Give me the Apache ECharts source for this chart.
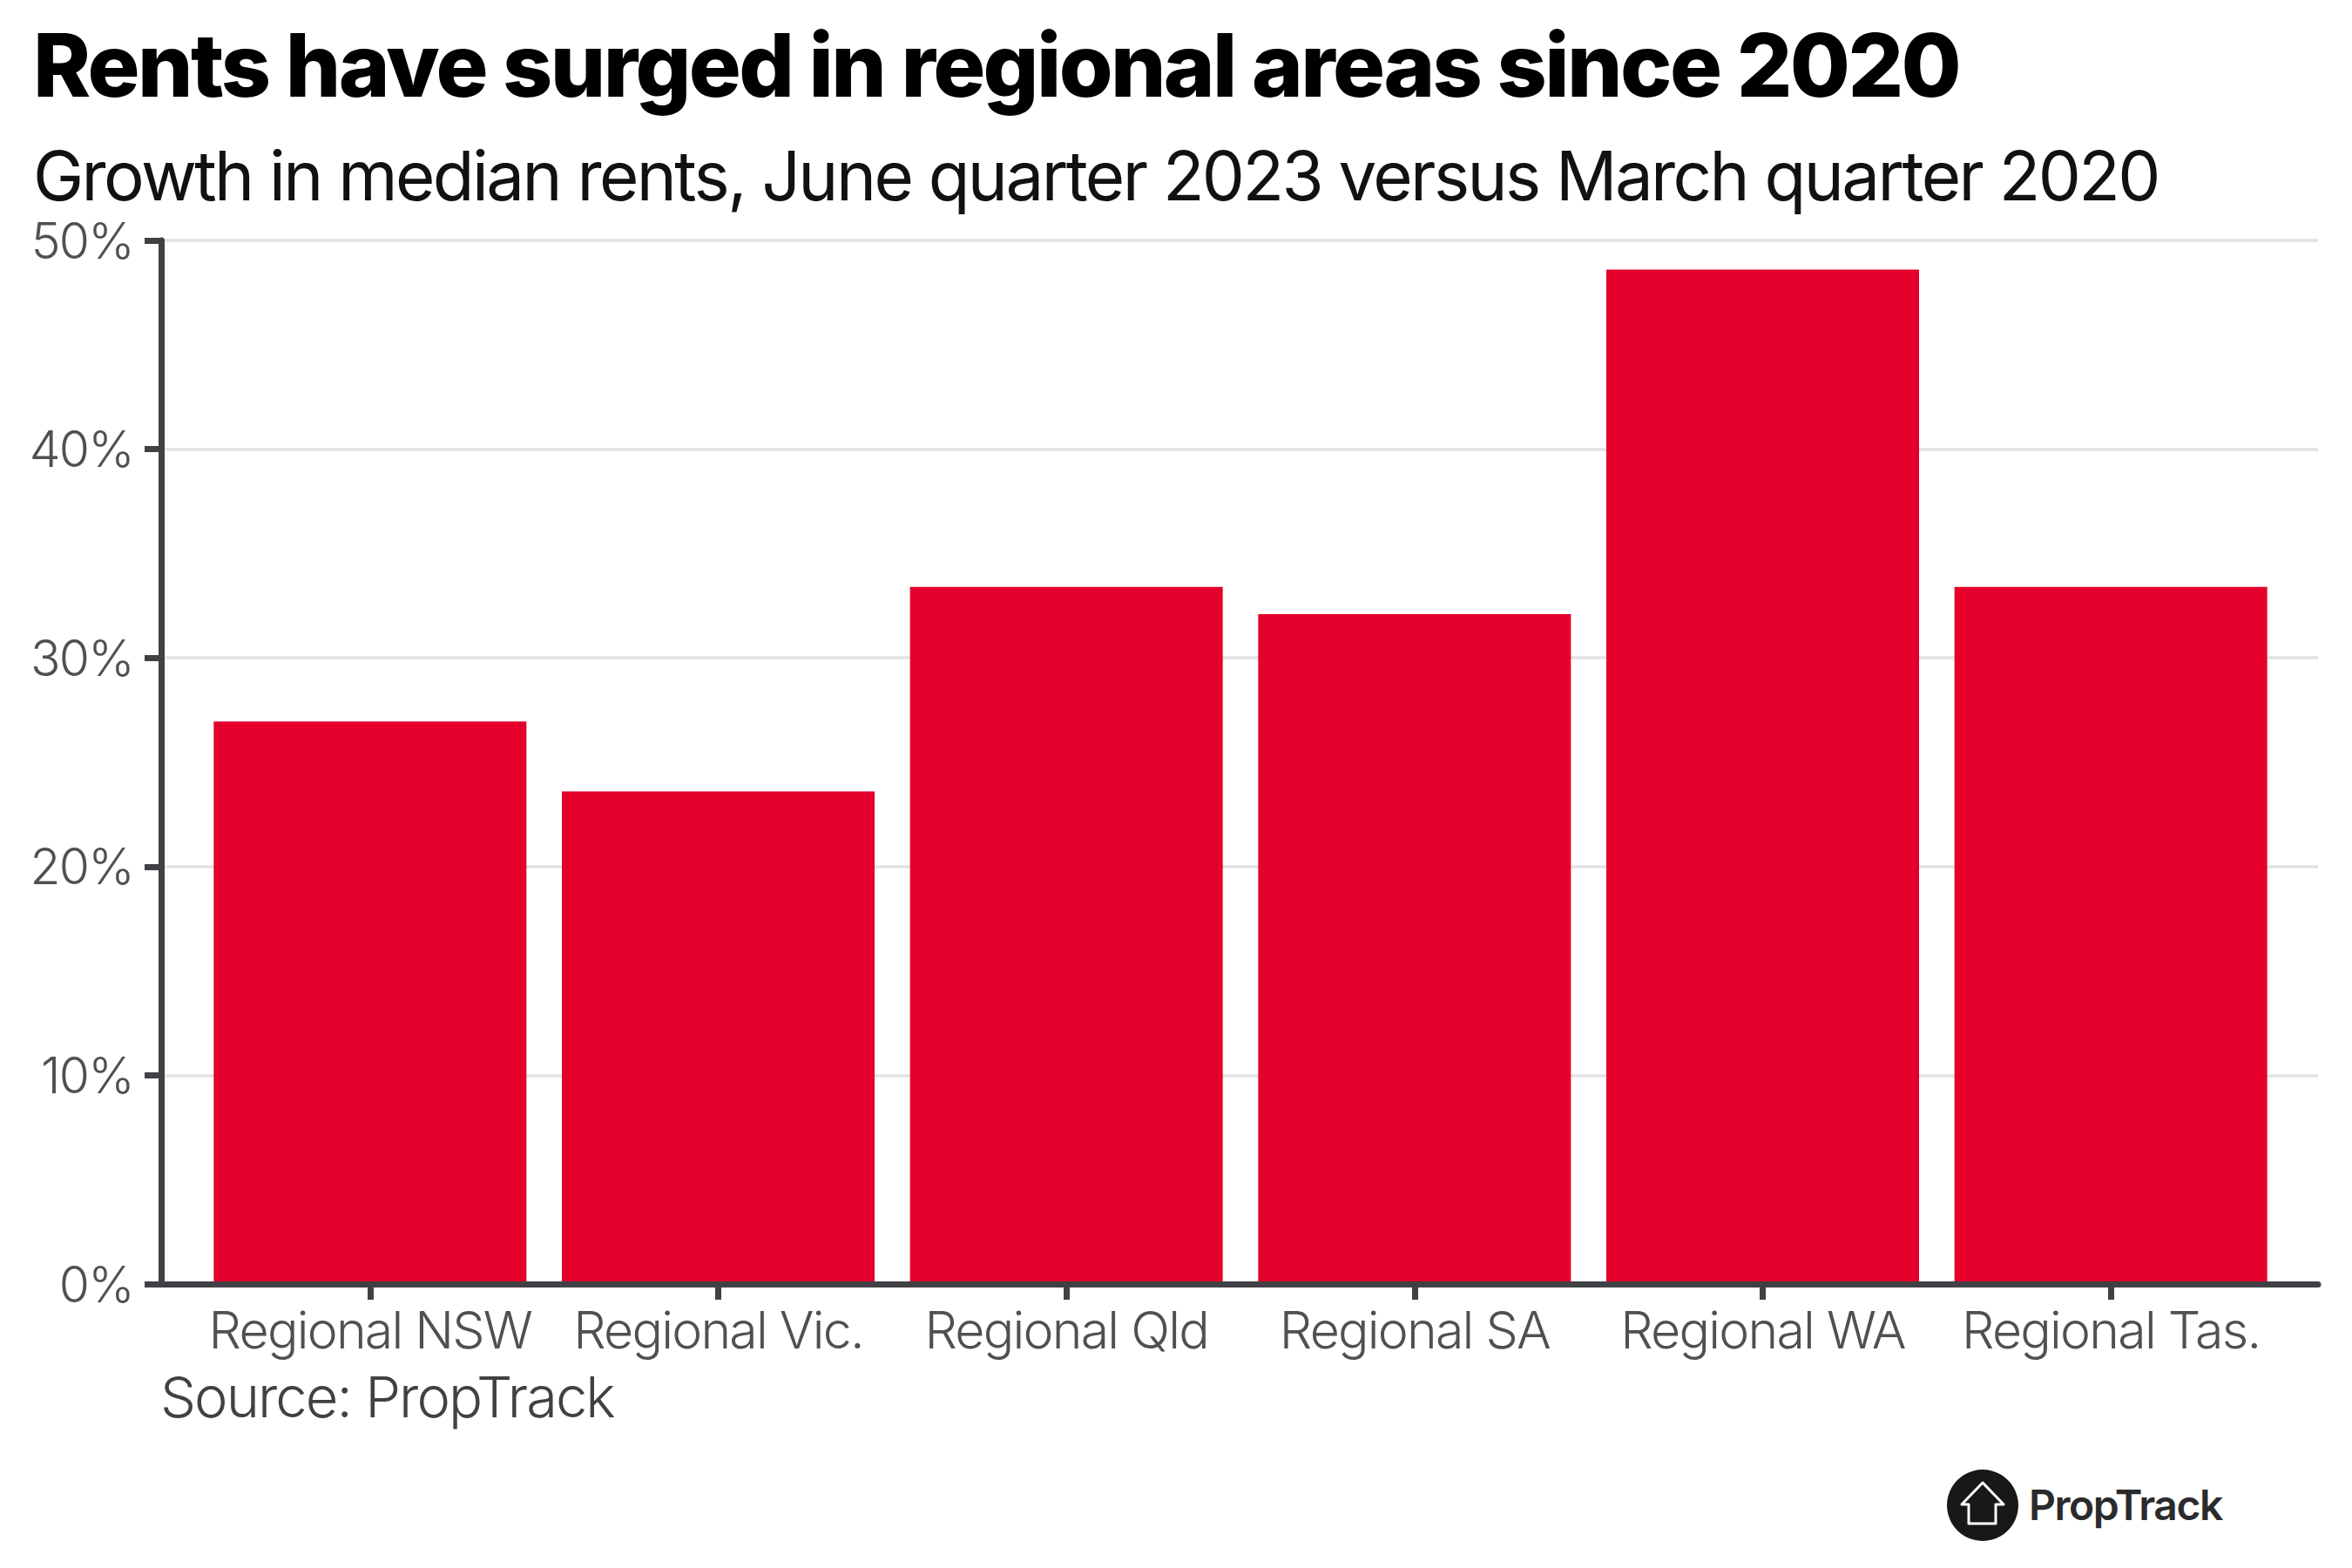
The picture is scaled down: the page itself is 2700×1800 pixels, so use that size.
<!DOCTYPE html>
<html><head><meta charset="utf-8">
<style>html,body{margin:0;padding:0;background:#fff}#c{width:2700px;height:1800px}
svg text{letter-spacing:-0.03em}
svg text[style*="800"]{letter-spacing:-0.026em}
svg text[style*="78px"]{letter-spacing:-0.033em}
</style>
<script src="https://cdn.jsdelivr.net/npm/echarts@6/dist/echarts.min.js"></script>
</head><body><div id="c"></div>
<script>
const titleText = 'Rents have surged in regional areas since 2020';
const subtitleText = 'Growth in median rents, June quarter 2023 versus March quarter 2020';
const sourceText = 'Source: PropTrack';
const logoText = 'PropTrack';
const categories = ['Regional NSW','Regional Vic.','Regional Qld','Regional SA','Regional WA','Regional Tas.'];
const rentGrowth = [26.95,23.6,33.4,32.1,48.6,33.4];
const yMin = 0, yMax = 50, yStep = 10;

const FONT = 'Inter';
const chart = echarts.init(document.getElementById('c'), null, {renderer:'svg'});
const AXIS = '#414045', LABEL = '#505050', GRID = '#e2e2e2', RED = '#e4002b';
chart.setOption({
  backgroundColor:'#fff',
  animation:false,
  title:[
    {text:titleText,left:33,top:19,textStyle:{fontFamily:FONT,fontSize:100,fontWeight:800,color:'#000'}},
    {text:subtitleText,left:33,top:157,textStyle:{fontFamily:FONT,fontSize:78,fontWeight:400,color:'#111'}},
    {text:sourceText,left:179,top:1566,textStyle:{fontFamily:FONT,fontSize:65,fontWeight:300,color:'#414045'}}
  ],
  grid:[
    {left:185,top:276,width:2476,height:1198},
    {left:225,top:276,width:2398,height:1198}
  ],
  xAxis:[
    {type:'value',gridIndex:0,min:0,max:1,z:10,splitLine:{show:false},axisTick:{show:false},axisLabel:{show:false},
     axisLine:{show:true,onZero:false,lineStyle:{color:AXIS,width:7}}},
    {type:'category',gridIndex:1,data:categories,z:10,axisLine:{show:false,onZero:false},
     axisTick:{show:true,alignWithLabel:true,length:18,lineStyle:{color:AXIS,width:7}},
     axisLabel:{interval:0,margin:23,color:LABEL,fontFamily:FONT,fontSize:59,fontWeight:300}}
  ],
  yAxis:[
    {type:'value',gridIndex:0,min:yMin,max:yMax,interval:yStep,z:1,
     axisLine:{show:true,lineStyle:{color:AXIS,width:7}},
     axisTick:{show:true,length:19,lineStyle:{color:AXIS,width:7}},
     axisLabel:{margin:32,color:LABEL,fontFamily:FONT,fontSize:57,fontWeight:300,formatter:'{value}%'},
     splitLine:{show:true,lineStyle:{color:GRID,width:3.5}}},
    {type:'value',gridIndex:1,min:yMin,max:yMax,interval:yStep,show:false}
  ],
  series:[{type:'bar',xAxisIndex:1,yAxisIndex:1,data:rentGrowth,barWidth:359,itemStyle:{color:RED},z:2}],
  graphic:[
    {type:'circle',shape:{cx:2276,cy:1728,r:41},style:{fill:'#18181b'}},
    {type:'polygon',shape:{points:[[2276,1702],[2300,1727],[2291,1727],[2291,1749],[2260,1749],[2260,1727],[2252,1727]]},
     style:{fill:'#18181b',stroke:'#fff',lineWidth:3,lineJoin:'round'}},
    {type:'text',style:{x:2329,y:1751,text:logoText,fontFamily:FONT,fontSize:48,fontWeight:600,fill:'#2b2b2e',textVerticalAlign:'bottom'}}
  ]
});
</script></body></html>
